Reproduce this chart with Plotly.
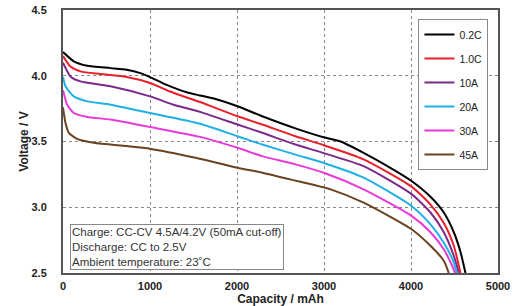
import plotly.graph_objects as go

series_names = ["0.2C", "1.0C", "10A", "20A", "30A", "45A"]
series_colors = ["#000000", "#e8202a", "#7b2a8a", "#1fb0e6", "#e83ad8", "#6b4220"]

cap_02c = [0, 124, 278, 546, 732, 889, 1000, 1192, 1422, 1575, 1753, 2006, 2290, 2672, 3006, 3190, 3455, 3763, 4006, 4224, 4377, 4492, 4569, 4626]
v_02c = [4.18, 4.11, 4.076, 4.058, 4.045, 4.02, 3.99, 3.93, 3.874, 3.85, 3.823, 3.768, 3.692, 3.60, 3.53, 3.50, 3.414, 3.30, 3.20, 3.08, 2.96, 2.81, 2.66, 2.50]

cap_10c = [0, 86, 201, 431, 732, 1000, 1230, 1575, 2006, 2290, 2672, 3006, 3455, 4006, 4224, 4377, 4492, 4569]
v_10c = [4.15, 4.07, 4.033, 4.013, 3.99, 3.945, 3.88, 3.80, 3.692, 3.629, 3.54, 3.47, 3.364, 3.157, 3.02, 2.88, 2.707, 2.50]

cap_10a = [0, 86, 201, 546, 1000, 1268, 1575, 2006, 2290, 2672, 3006, 3455, 4006, 4224, 4377, 4492, 4549]
v_10a = [4.10, 3.995, 3.957, 3.92, 3.843, 3.78, 3.725, 3.629, 3.566, 3.477, 3.41, 3.313, 3.10, 2.96, 2.81, 2.63, 2.50]

cap_20a = [0, 29, 124, 278, 546, 1000, 1575, 2006, 2290, 2672, 3006, 3455, 4006, 4224, 4377, 4492, 4525]
v_20a = [3.99, 3.92, 3.843, 3.805, 3.78, 3.717, 3.635, 3.54, 3.477, 3.40, 3.335, 3.225, 3.01, 2.87, 2.73, 2.58, 2.50]

cap_30a = [0, 48, 124, 278, 546, 1000, 1575, 2006, 2290, 2672, 3006, 3455, 4006, 4224, 4377, 4473, 4506]
v_30a = [3.89, 3.78, 3.717, 3.687, 3.667, 3.61, 3.535, 3.452, 3.389, 3.326, 3.26, 3.136, 2.934, 2.81, 2.68, 2.555, 2.50]

cap_45a = [0, 29, 67, 163, 355, 732, 1000, 1523, 2006, 2290, 2610, 3075, 3455, 4006, 4224, 4377, 4434]
v_45a = [3.76, 3.64, 3.566, 3.52, 3.49, 3.465, 3.445, 3.376, 3.30, 3.263, 3.212, 3.136, 3.035, 2.833, 2.707, 2.593, 2.50]

caps = [cap_02c, cap_10c, cap_10a, cap_20a, cap_30a, cap_45a]
volts = [v_02c, v_10c, v_10a, v_20a, v_30a, v_45a]

x_ticks = [0, 1000, 2000, 3000, 4000, 5000]
y_ticks = [2.5, 3.0, 3.5, 4.0, 4.5]
y_tick_labels = ["2.5", "3.0", "3.5", "4.0", "4.5"]

note_lines = ["Charge: CC-CV 4.5A/4.2V (50mA cut-off)", "Discharge: CC to 2.5V", "Ambient temperature: 23˚C"]

font_family = "Liberation Sans, Arial, sans-serif"

fig = go.Figure()
for name, color, xs, ys in zip(series_names, series_colors, caps, volts):
    fig.add_trace(go.Scatter(
        x=xs, y=ys, name=name, mode="lines", legendgroup=name,
        line=dict(color=color, width=2, shape="spline", smoothing=0.6),
    ))

fig.update_layout(
    width=515, height=306,
    margin=dict(l=63, r=17, t=10, b=33),
    paper_bgcolor="white", plot_bgcolor="white",
    font=dict(family=font_family, color="#222"),
    showlegend=True,
    legend=dict(
        x=0.978, xanchor="right", y=0.966, yanchor="top",
        bgcolor="white", bordercolor="#888", borderwidth=1,
        font=dict(size=10.5, color="#222"),
        tracegroupgap=5, itemwidth=30,
    ),
    xaxis=dict(
        range=[0, 5000], tickvals=x_ticks,
        showgrid=True, gridcolor="#888", griddash="dot", gridwidth=1,
        showline=True, linecolor="#555", linewidth=2, mirror=True,
        zeroline=False, automargin=False, ticklabeloverflow="allow",
        tickfont=dict(size=11, family=font_family, color="#222", weight="bold"),
        ticklabelstandoff=2,
        title=dict(text="<b>Capacity / mAh</b>", font=dict(size=12), standoff=0),
    ),
    yaxis=dict(
        range=[2.5, 4.5], tickvals=y_ticks, ticktext=y_tick_labels,
        showgrid=True, gridcolor="#888", griddash="dot", gridwidth=1,
        showline=True, linecolor="#555", linewidth=2, mirror=True,
        zeroline=False, automargin=False, ticklabeloverflow="allow",
        tickfont=dict(size=11, family=font_family, color="#222", weight="bold"),
        ticklabelstandoff=12,
        title=dict(text="<b>Voltage / V</b>", font=dict(size=12), standoff=0),
    ),
)

fig.add_annotation(
    xref="paper", yref="paper", x=0.016, y=0.012, xanchor="left", yanchor="bottom",
    text="<br>".join(note_lines), showarrow=False, align="left",
    font=dict(size=11.5, color="#333", family=font_family),
    bgcolor="white", bordercolor="#888", borderwidth=1, borderpad=1,
)

# remove the default 8px page margin so the figure fills the window exactly
fig.write_html(
    "out.html",
    config={"displayModeBar": False},
    post_script="document.body.style.margin='0';document.body.style.overflow='hidden';",
)
